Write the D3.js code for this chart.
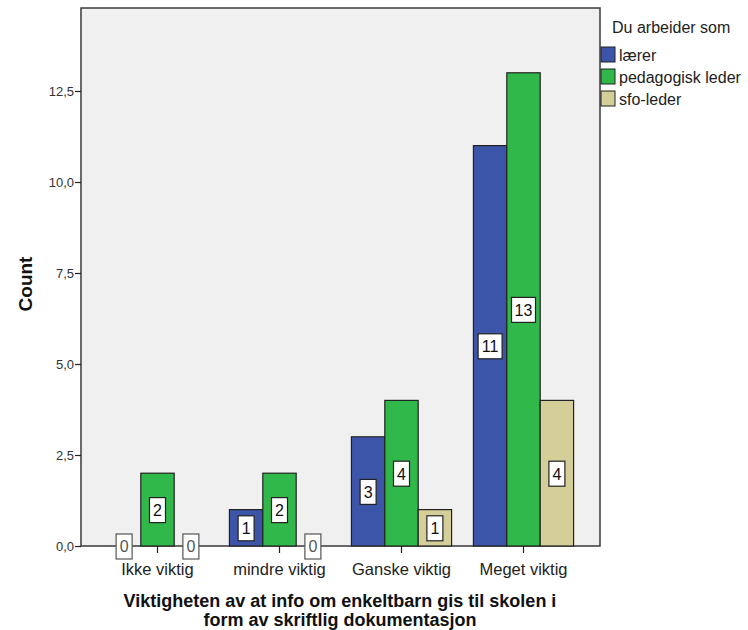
<!DOCTYPE html>
<html>
<head>
<meta charset="utf-8">
<script src="https://cdn.jsdelivr.net/npm/d3@7"></script>
<style>
  html, body { margin: 0; padding: 0; background: #ffffff; }
  svg { display: block; font-family: "Liberation Sans", Arial, sans-serif; }
</style>
</head>
<body>
<svg id="chart" width="748" height="630"></svg>
<script>
// Response categories on the x axis
const categories = ["Ikke viktig", "mindre viktig", "Ganske viktig", "Meget viktig"];
// Legend groups ("Du arbeider som")
const seriesNames = ["lærer", "pedagogisk leder", "sfo-leder"];
// Counts per category for each group
const laerer = [0, 1, 3, 11];
const pedagogiskLeder = [2, 2, 4, 13];
const sfoLeder = [0, 0, 1, 4];
// Y axis tick values
const yTicks = [0, 2.5, 5, 7.5, 10, 12.5];

const seriesValues = [laerer, pedagogiskLeder, sfoLeder];
const colors = ["#3c55a9", "#30b84b", "#d4cf98"];

const svg = d3.select("#chart");
const plot = { left: 81, right: 600, top: 8, bottom: 546 };

const y = d3.scaleLinear().domain([0, 14.78]).range([plot.bottom, plot.top]);
const x0 = d3.scaleBand().domain(categories).range([plot.left, plot.right])
  .paddingInner(0).paddingOuter(0.127);
const x1 = d3.scaleBand().domain(seriesNames).range([0, x0.bandwidth()])
  .paddingInner(0).paddingOuter(0.327);

// Plot background and frame
svg.append("rect")
  .attr("x", plot.left).attr("y", plot.top)
  .attr("width", plot.right - plot.left).attr("height", plot.bottom - plot.top)
  .attr("fill", "#f0f0f0").attr("stroke", "#3a3a3a").attr("stroke-width", 1.5);

// Y axis
const fmt = v => d3.format(".1f")(v).replace(".", ",");
const yAxis = d3.axisLeft(y).tickValues(yTicks).tickFormat(fmt).tickSize(6).tickPadding(1);
const gy = svg.append("g").attr("transform", `translate(${plot.left},0)`).call(yAxis);
gy.select(".domain").remove();
gy.selectAll(".tick line").attr("stroke", "#222").attr("stroke-width", 1.2);
gy.selectAll(".tick text").attr("fill", "#333").style("font-size", "13px");

// X axis
const xAxis = d3.axisBottom(x0).tickSize(7).tickPadding(10);
const gx = svg.append("g").attr("transform", `translate(0,${plot.bottom})`).call(xAxis);
gx.select(".domain").remove();
gx.selectAll(".tick line").attr("stroke", "#222").attr("stroke-width", 1.2);
gx.selectAll(".tick text").attr("fill", "#222").style("font-size", "16.5px");

// Bars
const rows = categories.map((c, i) => seriesNames.map((s, j) => ({ cat: c, series: s, value: seriesValues[j][i], color: colors[j] })));
const groups = svg.append("g").selectAll("g").data(rows).join("g")
  .attr("transform", (d, i) => `translate(${x0(categories[i])},0)`);

groups.selectAll("rect.bar").data(d => d).join("rect")
  .attr("class", "bar")
  .attr("x", d => x1(d.series))
  .attr("y", d => y(d.value))
  .attr("width", x1.bandwidth())
  .attr("height", d => y(0) - y(d.value))
  .attr("fill", d => d.color)
  .attr("stroke", "#222")
  .attr("stroke-width", 1.2);

// Value labels in boxes at the middle of each bar
const labels = groups.selectAll("g.lbl").data(d => d).join("g")
  .attr("class", "lbl")
  .attr("transform", d => `translate(${x1(d.series) + x1.bandwidth() / 2},${y(d.value / 2)})`);

labels.append("rect")
  .attr("x", d => -(String(d.value).length > 1 ? 12 : 8))
  .attr("y", -12)
  .attr("width", d => String(d.value).length > 1 ? 24 : 16)
  .attr("height", 25)
  .attr("fill", "#ffffff")
  .attr("stroke", d => d.value === 0 ? "#555" : "#222")
  .attr("stroke-width", 1.2);

labels.append("text")
  .attr("text-anchor", "middle")
  .attr("dy", "0.37em")
  .attr("y", 0.5)
  .style("font-size", "16px")
  .attr("fill", d => d.value === 0 ? "#555" : "#111")
  .text(d => d.value);

// Axis titles
svg.append("text")
  .attr("transform", "translate(32,284) rotate(-90)")
  .attr("text-anchor", "middle")
  .style("font-size", "19px").style("font-weight", "bold").attr("fill", "#111")
  .text("Count");

const xTitle = svg.append("text")
  .attr("text-anchor", "middle")
  .style("font-size", "18px").style("font-weight", "bold").attr("fill", "#111");
xTitle.append("tspan").attr("x", 340).attr("y", 607)
  .text("Viktigheten av at info om enkeltbarn gis til skolen i");
xTitle.append("tspan").attr("x", 340).attr("y", 626)
  .text("form av skriftlig dokumentasjon");

// Legend
const legend = svg.append("g");
legend.append("text").attr("x", 612).attr("y", 33)
  .style("font-size", "16px").attr("fill", "#222").text("Du arbeider som");
const li = legend.selectAll("g.item").data(seriesNames).join("g")
  .attr("class", "item")
  .attr("transform", (d, i) => `translate(601,${47 + i * 22})`);
li.append("rect").attr("width", 14).attr("height", 15)
  .attr("fill", (d, i) => colors[i]).attr("stroke", "#222").attr("stroke-width", 1);
li.append("text").attr("x", 18).attr("y", 8).attr("dy", "0.35em")
  .style("font-size", "16px").attr("fill", "#222").text(d => d);
</script>
</body>
</html>
